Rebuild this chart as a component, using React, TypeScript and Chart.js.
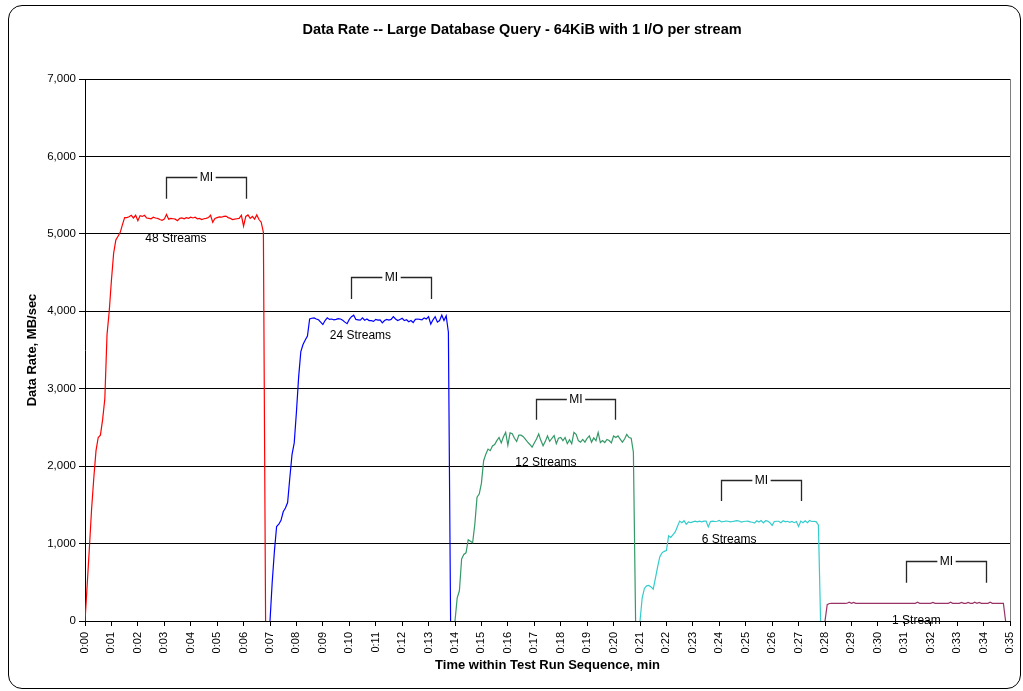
import React, { useEffect, useRef } from 'react';
import { Chart, registerables } from 'chart.js';

Chart.register(...registerables);

const TITLE = 'Data Rate -- Large Database Query - 64KiB with 1 I/O per stream';
const X_TITLE = 'Time within Test Run Sequence, min';
const Y_TITLE = 'Data Rate, MB/sec';

const SAMPLE_SECONDS = 5;
const X_MIN = 0;
const X_MAX = 35;
const Y_MIN = 0;
const Y_MAX = 7000;
const Y_STEP = 1000;

const SERIES_NAMES = ['48 Streams', '24 Streams', '12 Streams', '6 Streams', '1 Stream'];
const SERIES_START_MIN = [0, 7, 14, 21, 28];
const SERIES_COLORS = ['#FF0000', '#0000FF', '#339966', '#33CCCC', '#993366'];

const STREAMS_48 = [
  0, 470, 950, 1450, 1850, 2200, 2370, 2400, 2600, 2870,
  3700, 4000, 4400, 4750, 4920, 4970, 5020, 5120, 5210, 5210,
  5220, 5240, 5205, 5240, 5170, 5235, 5225, 5240, 5205, 5200,
  5195, 5215, 5205, 5200, 5185, 5175, 5190, 5250, 5190, 5200,
  5195, 5190, 5170, 5200, 5205, 5195, 5210, 5200, 5215, 5205,
  5215, 5195, 5200, 5185, 5195, 5200, 5210, 5240, 5150, 5200,
  5210, 5220, 5215, 5225, 5230, 5210, 5200, 5185, 5190, 5195,
  5200, 5240, 5100, 5225, 5245, 5200, 5225, 5190, 5245, 5185,
  5150, 5020, 0,
];

const STREAMS_24 = [
  0, 500, 900, 1220, 1250, 1300, 1410, 1460, 1530, 1850,
  2150, 2300, 2700, 3150, 3480, 3570, 3630, 3680, 3900, 3910,
  3915, 3900, 3890, 3860, 3830, 3880, 3915, 3895, 3900, 3890,
  3895, 3905, 3900, 3885, 3860, 3840, 3895, 3930, 3950, 3895,
  3890, 3885, 3915, 3885, 3900, 3880, 3880, 3870, 3895, 3885,
  3890, 3850, 3880, 3895, 3885, 3895, 3930, 3900, 3880, 3895,
  3910, 3880, 3890, 3865, 3880, 3855, 3895, 3900, 3895, 3890,
  3915, 3900, 3930, 3835, 3890, 3930, 3860, 3880, 3950, 3880,
  3940, 3730, 0,
];

const STREAMS_12 = [
  0, 300, 390, 800, 860, 880, 1050, 1030, 1010, 1250,
  1600, 1640, 1780, 2070, 2155, 2220, 2200, 2260, 2280, 2330,
  2370, 2300, 2380, 2435, 2270, 2430, 2420, 2360, 2320, 2400,
  2400, 2380, 2345, 2310, 2280, 2245, 2300, 2350, 2415, 2330,
  2263, 2320, 2390, 2320, 2360, 2395, 2290, 2360, 2370, 2330,
  2370, 2290, 2340, 2290, 2435, 2410, 2330, 2310, 2345, 2310,
  2360, 2390, 2310, 2365, 2330, 2435, 2305, 2330, 2305, 2345,
  2330, 2300, 2390, 2370, 2390, 2350, 2310, 2350, 2410, 2370,
  2360, 2180, 0,
];

const STREAMS_6 = [
  0, 300, 420, 455, 460, 440, 410, 555, 700, 830,
  880, 900, 910, 1100, 1080, 1115, 1150, 1220, 1290, 1270,
  1295, 1250, 1280, 1270, 1280, 1290, 1280, 1290, 1280, 1290,
  1290, 1215, 1285, 1290, 1285, 1288, 1298, 1280, 1285, 1290,
  1288, 1280, 1285, 1290, 1295, 1292, 1278, 1285, 1288, 1290,
  1280, 1275, 1265, 1295, 1278, 1298, 1268, 1295, 1290, 1270,
  1235, 1285, 1288, 1288, 1270, 1295, 1280, 1288, 1275, 1285,
  1270, 1285, 1220, 1290, 1270, 1295, 1270, 1298, 1285, 1288,
  1280, 1240, 0,
];

const STREAMS_1 = [
  0, 210, 226, 228, 227, 228, 228, 227, 228, 228,
  229, 242, 228, 241, 228, 227, 228, 228, 228, 227,
  228, 228, 228, 228, 227, 228, 228, 228, 228, 228,
  227, 228, 228, 228, 228, 228, 228, 227, 228, 228,
  228, 228, 242, 228, 228, 227, 228, 228, 228, 241,
  228, 228, 228, 228, 227, 228, 228, 243, 228, 228,
  228, 228, 241, 228, 228, 240, 228, 228, 242, 228,
  241, 228, 228, 228, 228, 243, 228, 228, 228, 228,
  227, 228, 0,
];

const SERIES_VALUES = [STREAMS_48, STREAMS_24, STREAMS_12, STREAMS_6, STREAMS_1];

// "MI" measurement-interval brackets (minutes / MB/sec)
const MI_START = [3.08, 10.08, 17.08, 24.08, 31.08];
const MI_END = [6.08, 13.1, 20.06, 27.08, 34.1];
const MI_TOP = [5730, 4440, 2870, 1820, 770];
const MI_BOTTOM = [5455, 4160, 2600, 1550, 495];

// Stream labels (centre positions in data units)
const LABEL_X = [3.44, 10.42, 17.44, 24.37, 31.46];
const LABEL_Y = [4935, 3687, 2044, 1045, 9];

const FONT_FAMILY = '"Liberation Sans", Arial, Helvetica, sans-serif';

const formatMinute = (v: number) => `0:${String(Math.round(v)).padStart(2, '0')}`;
const formatThousands = (v: number) => Number(v).toLocaleString('en-US');

const overlayPlugin = {
  id: 'overlay',
  afterDatasetsDraw(chart: any) {
    const { ctx, chartArea, scales } = chart;
    const xs = scales.x;
    const ys = scales.y;
    ctx.save();
    // right plot border
    ctx.strokeStyle = '#808080';
    ctx.lineWidth = 1;
    ctx.beginPath();
    const rx = Math.round(chartArea.right) + 0.5;
    ctx.moveTo(rx, chartArea.top);
    ctx.lineTo(rx, chartArea.bottom);
    ctx.stroke();

    ctx.font = `12px ${FONT_FAMILY}`;
    ctx.textAlign = 'center';
    ctx.textBaseline = 'middle';
    for (let i = 0; i < MI_START.length; i++) {
      const x1 = Math.round(xs.getPixelForValue(MI_START[i])) + 0.5;
      const x2 = Math.round(xs.getPixelForValue(MI_END[i])) + 0.5;
      const yt = Math.round(ys.getPixelForValue(MI_TOP[i])) + 0.5;
      const yb = ys.getPixelForValue(MI_BOTTOM[i]);
      ctx.strokeStyle = '#262626';
      ctx.lineWidth = 1.3;
      ctx.beginPath();
      ctx.moveTo(x1, yb);
      ctx.lineTo(x1, yt);
      ctx.lineTo(x2, yt);
      ctx.lineTo(x2, yb);
      ctx.stroke();
      const cx = (x1 + x2) / 2;
      const w = ctx.measureText('MI').width + 5;
      ctx.fillStyle = '#ffffff';
      ctx.fillRect(cx - w / 2, yt - 9, w, 18);
      ctx.fillStyle = '#000000';
      ctx.fillText('MI', cx, yt);
    }

    for (let i = 0; i < SERIES_NAMES.length; i++) {
      ctx.fillStyle = '#000000';
      ctx.fillText(SERIES_NAMES[i], xs.getPixelForValue(LABEL_X[i]), ys.getPixelForValue(LABEL_Y[i]));
    }
    ctx.restore();
  },
  afterDraw(chart: any) {
    const { ctx, chartArea } = chart;
    ctx.save();
    ctx.fillStyle = '#000000';
    ctx.textAlign = 'center';
    ctx.textBaseline = 'middle';
    ctx.font = `bold 14.5px ${FONT_FAMILY}`;
    ctx.fillText(TITLE, 522, 30);
    ctx.font = `bold 13px ${FONT_FAMILY}`;
    ctx.fillText(X_TITLE, (chartArea.left + chartArea.right) / 2, 665);
    ctx.translate(32, (chartArea.top + chartArea.bottom) / 2);
    ctx.rotate(-Math.PI / 2);
    ctx.fillText(Y_TITLE, 0, 0);
    ctx.restore();
  },
};

export default function App() {
  const canvasRef = useRef<HTMLCanvasElement | null>(null);

  useEffect(() => {
    const canvas = canvasRef.current;
    if (!canvas) return;
    const step = SAMPLE_SECONDS / 60;
    const datasets = SERIES_VALUES.map((vals, s) => ({
      label: SERIES_NAMES[s],
      data: vals.map((v, i) => ({ x: SERIES_START_MIN[s] + i * step, y: v })),
      borderColor: SERIES_COLORS[s],
      backgroundColor: SERIES_COLORS[s],
      borderWidth: 1.2,
      pointRadius: 0,
      tension: 0,
      fill: false,
    }));

    const chart = new Chart(canvas, {
      type: 'line',
      data: { datasets },
      plugins: [overlayPlugin],
      options: {
        animation: false,
        responsive: false,
        devicePixelRatio: 1,
        layout: { padding: { left: 0, top: 79, right: 13, bottom: 0 } },
        plugins: {
          legend: { display: false },
          title: { display: false },
          tooltip: { enabled: false },
        },
        scales: {
          x: {
            type: 'linear',
            min: X_MIN,
            max: X_MAX,
            afterFit: (s: any) => {
              s.height = 70;
              s.paddingLeft = 0;
              s.paddingRight = 0;
            },
            ticks: {
              stepSize: 1,
              autoSkip: false,
              maxRotation: 90,
              minRotation: 90,
              padding: 6,
              color: '#000',
              font: { family: FONT_FAMILY, size: 11 },
              callback: (v: any) => formatMinute(Number(v)),
            },
            grid: { drawOnChartArea: false, drawTicks: true, tickLength: 5, color: '#000' },
            border: { color: '#000', width: 1 },
          },
          y: {
            min: Y_MIN,
            max: Y_MAX,
            afterFit: (s: any) => {
              s.width = 85;
              s.paddingTop = 0;
              s.paddingBottom = 0;
            },
            ticks: {
              stepSize: Y_STEP,
              padding: 3,
              color: '#000',
              font: { family: FONT_FAMILY, size: 11.5 },
              callback: (v: any) => formatThousands(Number(v)),
            },
            grid: { color: '#000', tickLength: 6, lineWidth: 1 },
            border: { color: '#000', width: 1 },
          },
        },
      } as any,
    });
    return () => chart.destroy();
  }, []);

  return (
    <div style={{ position: 'absolute', left: 0, top: 0, width: 1023, height: 691, background: '#fff' }}>
      <div
        style={{
          position: 'absolute',
          left: 8,
          top: 5,
          width: 1013,
          height: 684,
          border: '1.5px solid #000',
          borderRadius: 14,
          boxSizing: 'border-box',
        }}
      />
      <canvas
        ref={canvasRef}
        width={1023}
        height={691}
        style={{ position: 'absolute', left: 0, top: 0, width: 1023, height: 691 }}
      />
    </div>
  );
}
